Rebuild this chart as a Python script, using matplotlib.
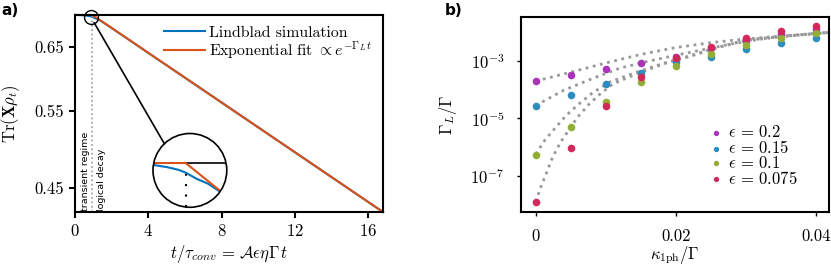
import numpy as np
import matplotlib.pyplot as plt
from matplotlib.patches import Circle, ConnectionPatch
from matplotlib.ticker import NullLocator

plt.rcParams['font.family'] = 'serif'
plt.rcParams['font.serif'] = ['cmr10']
plt.rcParams['mathtext.fontset'] = 'cm'
plt.rcParams['axes.unicode_minus'] = False
plt.rcParams['axes.formatter.use_mathtext'] = True
plt.rcParams['font.size'] = 12

# ---- panel a: Tr(X rho_t) vs time
t_lind = [0, 0.25, 0.5, 0.7, 0.85, 0.95, 1.1, 1.25, 1.4, 2, 4, 8, 12, 16.8]
tr_lind = [0.7071, 0.7069, 0.7064, 0.7055, 0.7045, 0.7034, 0.7010, 0.6992,
           0.6964, 0.6833, 0.6402, 0.5623, 0.4937, 0.4223]
t_fit = [0, 0.95, 16.8]
tr_fit = [0.7071, 0.7071, 0.4223]
t_split = 0.95
a_xticks = [0, 4, 8, 12, 16]
a_yticks = [0.45, 0.55, 0.65]
a_ylabels = ['0.45', '0.55', '0.65']

# ---- panel b: logical decay rate vs single-photon loss
kappa = [0, 0.005, 0.01, 0.015, 0.02, 0.025, 0.03, 0.035, 0.04]
eps_labels = [r'$\epsilon\,=\,0.2$', r'$\epsilon\,=\,0.15$', r'$\epsilon\,=\,0.1$', r'$\epsilon\,=\,0.075$']
gamma_02 = [2.0e-4, 3.2e-4, 5.2e-4, 8.3e-4, 1.35e-3, 2.8e-3, 5.0e-3, 9.0e-3, 1.3e-2]
gamma_015 = [2.75e-5, 6.5e-5, 1.6e-4, 3.7e-4, 9.1e-4, 1.4e-3, 2.6e-3, 4.4e-3, 6.2e-3]
gamma_01 = [5.2e-7, 4.9e-6, 3.8e-5, 1.9e-4, 6.9e-4, 1.7e-3, 3.6e-3, 6.2e-3, 9.3e-3]
gamma_0075 = [1.2e-8, 8.9e-7, 2.75e-5, 2.8e-4, 1.26e-3, 3.2e-3, 6.5e-3, 1.12e-2, 1.66e-2]

# dotted model curves (kappa, log10 Gamma_L)
k_c02 = [0, 0.005, 0.01, 0.015, 0.02, 0.025, 0.03, 0.035, 0.042]
l_c02 = [-3.70, -3.39, -3.07, -2.77, -2.53, -2.36, -2.23, -2.13, -2.00]
k_c015 = [0, 0.004, 0.008, 0.012, 0.016, 0.02, 0.024, 0.028, 0.032, 0.036, 0.042]
l_c015 = [-4.55, -4.02, -3.62, -3.25, -3.01, -2.80, -2.60, -2.40, -2.24, -2.13, -2.00]
k_c01 = [0, 0.0013, 0.0028, 0.0043, 0.006, 0.008, 0.0105, 0.014, 0.0185, 0.022, 0.026, 0.03, 0.035, 0.042]
l_c01 = [-6.25, -5.76, -5.33, -4.91, -4.53, -4.13, -3.74, -3.42, -3.06, -2.82, -2.52, -2.27, -2.14, -2.00]
k_c0075 = [0, 0.0007, 0.0016, 0.0024, 0.0035, 0.0048, 0.006, 0.0076, 0.009, 0.011, 0.0144,
           0.0185, 0.022, 0.026, 0.03, 0.035, 0.042]
l_c0075 = [-7.91, -7.41, -6.86, -6.36, -5.85, -5.38, -4.95, -4.51, -4.19, -3.80, -3.45,
           -3.08, -2.84, -2.53, -2.28, -2.15, -2.00]

colors = ['#A934B8', '#2E8DBF', '#93AE34', '#D2295A']

fig = plt.figure(figsize=(8.31, 2.67), dpi=100)

# ================= panel a
ax1 = fig.add_axes([0.0903, 0.206, 0.3706, 0.738])
ax1.plot(t_lind, tr_lind, color='#0072BD', lw=1.5, clip_on=False, label='Lindblad simulation')
ax1.plot(t_fit, tr_fit, color='#D95319', lw=1.5, clip_on=False,
         label=r'Exponential fit $\propto e^{-\Gamma_L\,t}$')
ax1.set_yscale('log')
ax1.set_xlim(0, 16.8)
ax1.set_ylim(0.4223, 0.7071)
ax1.set_xticks(a_xticks)
ax1.set_yticks(a_yticks)
ax1.set_yticklabels(a_ylabels)
ax1.yaxis.set_minor_locator(NullLocator())
ax1.tick_params(width=1.5, length=4, pad=4)
for s in ax1.spines.values():
    s.set_linewidth(1.5)
ax1.set_xlabel(r'$t/\tau_{conv}\,=\,\mathcal{A}\epsilon\eta\Gamma\, t$', labelpad=3)
ax1.set_ylabel(r'$\mathrm{Tr}(\mathbf{X}\rho_t)$', labelpad=9)
ax1.legend(loc='upper right', frameon=False, handlelength=2.6, handletextpad=0.25,
           labelspacing=0.0, borderaxespad=0.3, fontsize=11.3)

ax1.axvline(t_split, color='#999999', ls=':', lw=1.2)
ax1.annotate('transient regime', xy=(t_split, 0.4223), xytext=(-2, 1), textcoords='offset points',
             rotation=90, ha='right', va='bottom', family='DejaVu Sans', fontsize=6.8)
ax1.annotate('logical decay', xy=(t_split, 0.4223), xytext=(3, 1), textcoords='offset points',
             rotation=90, ha='left', va='bottom', family='DejaVu Sans', fontsize=6.8)

# small circle marking the zoomed region
ax1.plot([0.85], [0.7041], 'o', ms=10, mfc='none', mec='k', mew=1, clip_on=False, zorder=5)

# circular zoom inset
axin = fig.add_axes([0.1841, 0.2236, 0.0888, 0.2764])
axin.set_axis_off()
disk = Circle((0.5, 0.5), 0.5, transform=axin.transAxes, fc='white', ec='none', clip_on=False)
axin.add_patch(disk)
l1, = axin.plot(t_lind, tr_lind, color='#0072BD', lw=1.5, zorder=3)
l0 = axin.axhline(0.7071, color='k', lw=1.2, zorder=2)
l2, = axin.plot(t_fit, tr_fit, color='#D95319', lw=1.5, zorder=4)
vl = axin.vlines(t_split, 0.6902, tr_lind[5], colors='k', linestyles=(0, (1, 4)), lw=1.5, zorder=2)
axin.set_yscale('log')
axin.set_xlim(0.507, 1.507)
axin.set_ylim(0.6902, 0.7186)
for art in (l0, l1, l2, vl):
    art.set_clip_path(disk)
axin.add_patch(Circle((0.5, 0.5), 0.5, transform=axin.transAxes, fc='none', ec='k', lw=1.2,
                      zorder=6, clip_on=False))

con = ConnectionPatch(xyA=(0.155, 0.86), coordsA=axin.transAxes,
                      xyB=(0.85, 0.7041), coordsB=ax1.transData,
                      color='k', lw=1.2, shrinkB=5)
fig.add_artist(con)

# ================= panel b
ax2 = fig.add_axes([0.6270, 0.2049, 0.3710, 0.7303])
for kc, lc in [(k_c02, l_c02), (k_c015, l_c015), (k_c01, l_c01), (k_c0075, l_c0075)]:
    ax2.plot(kc, 10 ** np.array(lc), ls=':', color='#999999', lw=2.0, zorder=1)
for vals, c, lab in zip([gamma_02, gamma_015, gamma_01, gamma_0075], colors, eps_labels):
    ax2.scatter(kappa, vals, s=30, color=c, linewidths=0, label=lab, zorder=3)
ax2.set_yscale('log')
ax2.set_xlim(-0.0021, 0.0419)
ax2.set_ylim(10 ** -8.277, 10 ** -1.476)
ax2.set_yticks([1e-7, 1e-5, 1e-3])
ax2.yaxis.set_minor_locator(NullLocator())
ax2.set_xticks([0, 0.02, 0.04])
ax2.set_xticklabels(['0', '0.02', '0.04'])
ax2.tick_params(width=1, length=3, pad=9)
for s in ax2.spines.values():
    s.set_linewidth(1.5)
ax2.set_xlabel(r'$\kappa_{\mathrm{1ph}}/\Gamma$', labelpad=0)
ax2.set_ylabel(r'$\Gamma_L/\Gamma$', labelpad=8)
ax2.legend(loc='lower right', bbox_to_anchor=(0.93, 0.08), frameon=False, markerscale=0.7,
           handlelength=0.8, handletextpad=0.35, labelspacing=-0.07, borderaxespad=0.2)

fig.text(0.002, 0.99, 'a)', weight='bold', family='DejaVu Sans', fontsize=11, va='top', ha='left')
fig.text(0.535, 0.99, 'b)', weight='bold', family='DejaVu Sans', fontsize=11, va='top', ha='left')

fig.savefig('out.png', dpi=100)
